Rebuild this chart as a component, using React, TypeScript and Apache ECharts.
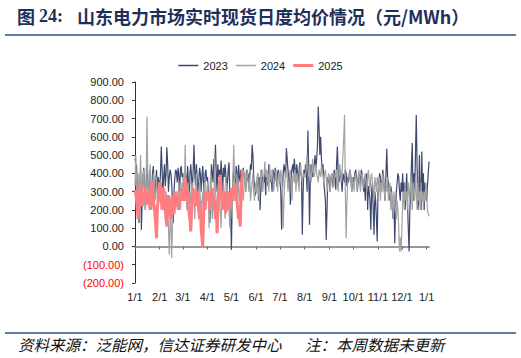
import React, { useEffect, useRef } from "react";
import * as echarts from "echarts";

const MONTH_DAYS = [31, 29, 31, 30, 31, 30, 31, 31, 30, 31, 30, 31];
const EXTRA_DAYS = 4;
const SERIES_NAMES = ["2023", "2024", "2025"];
const TITLE_PREFIX = "图";
const TITLE_NUM = "24:";
const TITLE_MAIN = "山东电力市场实时现货日度均价情况（元/MWh）";
const SOURCE_TEXT = "资料来源：泛能网，信达证券研发中心";
const NOTE_TEXT = "注：本周数据未更新";

const DATA_2023 = [
  // Jan
  480, 450, 440, 300, 250, 128, 330, 420, 91, 260, 380, 430, 300, 200, 350, 450, 380, 280, 330, 420, 250, 300, 400, 440, 330, 260, 350, 420, 300, 380, 350,
  // Feb
  320, 400, 547, 420, 300, 380, 450, 330, 400, 543, 450, 300, 380, 420, 400, 350, 250, 128, 300, 380, 420, 410, 350, 430, 390, 300, 420, 440, 380,
  // Mar
  400, 350, 250, 420, 380, 300, 440, 360, 200, 400, 450, 380, 300, 420, 557, 400, 330, 450, 380, 280, 350, 430, 400, 300, 380, 440, 350, 250, 400, 420, 360,
  // Apr
  380, 300, 250, 130, 320, 450, 400, 350, 480, 420, 557, 400, 300, 450, 380, 420, 350, 470, 400, 300, 430, 380, 450, 400, 280, 350, 420, 460, 300, 200,
  // May
  -18, 250, 380, 420, 350, 300, 440, 400, 330, 447, 380, 350, 420, 300, 400, 430, 380, 350, 300, 420, 360, 400, 330, 380, 450, 420, 557, 500, 380, 330, 280,
  // Jun
  300, 350, 400, 250, 380, 200, 330, 420, 300, 380, 350, 400, 280, 420, 380, 330, 450, 400, 350, 380, 300, 420, 400, 350, 430, 380, 330, 400, 420, 380,
  // Jul
  350, 300, 91, 300, 400, 450, 420, 380, 538, 480, 420, 350, 400, 228, 380, 420, 450, 400, 480, 420, 380, 450, 400, 350, 420, 460, 400, 380, 64, 300, 420,
  // Aug
  380, 450, 400, 300, 635, 420, 119, 350, 450, 400, 380, 420, 450, 500, 430, 480, 550, 766, 650, 500, 600, 480, 400, 450, 350, 300, 250, 36, 200, 380, 350,
  // Sep
  350, 300, 380, 400, 350, 320, 420, 380, 310, 450, 547, 400, 350, 380, 420, 360, 300, 400, 380, 350, 420, 400, 330, 380, 350, 400, 420, 380, 300, 350,
  // Oct
  380, 350, 400, 420, 380, 300, 350, 400, 380, 330, 420, 400, 350, 300, 380, 250, 350, 400, 200, 330, 300, 250, 91, 300, 350, 200, 64, 300, 250, 150, 27,
  // Nov
  300, 350, 400, 380, 300, 350, 420, 380, 300, 250, 400, 535, 380, 350, 300, 250, 330, 300, 200, 150, 250, 18, 200, 300, 350, 400, 380, 300, 250, 350,
  // Dec + early Jan
  300, 400, 250, 350, 200, 300, 400, 250, 100, -27, 200, 300, 450, 566, 250, 400, 300, 500, 720, 450, 200, 250, 500, 300, 200, 520, 250, 400, 200, 350, 300, 250, 330, 400, 465,
];

const DATA_2024 = [
  // Jan
  330, 500, 300, 250, 400, 200, 350, 500, 300, 250, 380, 420, 300, 200, 350, 711, 400, 250, 300, 450, 350, 200, 300, 400, 330, 250, 300, 380, 250, 300, 350,
  // Feb
  250, 300, 350, 280, 200, 300, 250, 150, 300, 250, 200, 100, -45, 150, 200, -64, 100, 250, 300, 200, 250, 300, 200, 280, 350, 250, 200, 300, 350,
  // Mar
  300, 400, 350, 557, 300, 200, 250, 350, 150, 300, 250, 200, 350, 300, 250, 150, 300, 400, 250, 200, 300, 350, 250, 150, 250, 300, 200, 350, 300, 250, 300,
  // Apr
  350, 250, 100, 300, 400, 250, 150, 300, 200, 510, 300, 250, 150, 300, 350, 250, 200, 100, 300, 250, 350, 300, 150, 200, 350, 300, 250, 200, 100, 300,
  // May
  300, 150, 400, 557, 350, 250, 300, 400, 250, 350, 300, 200, 350, 400, 300, 250, 350, 400, 300, 380, 420, 350, 300, 380, 250, 300, 350, 400, 300, 250, 350,
  // Jun
  300, 350, 400, 300, 250, 350, 420, 380, 300, 350, 400, 465, 380, 420, 350, 400, 300, 450, 380, 350, 420, 400, 300, 350, 380, 420, 350, 300, 400, 380,
  // Jul
  350, 420, 380, 300, 100, 250, 350, 400, 420, 380, 300, 350, 400, 420, 300, 250, 380, 400, 350, 420, 300, 380, 400, 350, 300, 420, 450, 380, 350, 400, 380,
  // Aug
  400, 380, 450, 510, 420, 380, 450, 400, 350, 420, 480, 400, 380, 420, 450, 400, 380, 350, 420, 400, 380, 450, 420, 380, 350, 400, 420, 380, 300, 350, 400,
  // Sep
  380, 300, 350, 400, 380, 320, 350, 400, 380, 420, 350, 300, 380, 450, 400, 350, 420, 500, 600, 720, 300, 45, 250, 350, 400, 380, 420, 350, 300, 380,
  // Oct
  350, 300, 380, 400, 350, 300, 380, 420, 350, 300, 380, 400, 350, 320, 380, 400, 350, 300, 380, 420, 350, 300, 380, 400, 350, 300, 250, 380, 350, 300, 380,
  // Nov
  350, 300, 380, 250, 350, 300, 400, 350, 300, 250, 350, 300, 380, 250, 300, 350, 200, 300, 250, 150, 300, 250, 200, 150, 250, 200, 100, -27, 50, -27,
  // Dec + early Jan
  100, 250, 300, 200, 350, 250, 300, 200, 350, 300, 250, 400, 300, 200, 350, 300, 250, 380, 300, 200, 350, 250, 300, 200, 350, 250, 300, 200, 300, 250, 350, 300, 200, 180, 165,
];

const DATA_2025 = [
  // Jan
  310, 290, 250, 200, 150, 230, 300, 350, 280, 220, 250, 300, 270, 320, 250, 230, 270, 300, 250, 200, 230, 350, 300, 250, 220, 180, 120, 45, 200, 250, 300,
  // Feb
  350, 300, 250, 200, 280, 320, 250, 200, 150, 110, 250, 280, 230, 200, 150, 250, 280, 200, 180, 250, 300, 270, 220, 250, 200, 280, 250, 300, 320,
  // Mar
  280, 250, 300, 374, 280, 250, 300, 220, 180, 150, 82, 200, 280, 320, 250, 300, 220, 280, 250, 300, 200, 150, 250, 100, 50, 0, 150, 250, 200, 300, 280,
  // Apr
  250, 300, 280, 200, 250, 300, 320, 250, 280, 200, 150, 250, 73, 200, 300, 350, 392, 300, 250, 200, 280, 250, 300, 182, 250, 300, 280, 200, 250, 300,
  // May
  280, 320, 250, 300, 330, 347, 300, 250, 200, 150, 180, 109, 250, 350, 420,
];

const COLORS = ["#3d4870", "#a3a3a3", "#ff7c80"];
const WIDTHS = [1.2, 1.2, 3];

function buildCategories(): string[] {
  const cats: string[] = [];
  MONTH_DAYS.forEach((n, m) => {
    for (let d = 1; d <= n; d++) cats.push(`${m + 1}/${d}`);
  });
  for (let d = 1; d <= EXTRA_DAYS; d++) cats.push(`1/${d}`);
  return cats;
}

const isMonthStart = (_i: number, v: string) => String(v).split("/")[1] === "1";

// legend icon: a horizontal bar inside a 20x10 box (tiny corner specks fix the bounding box)
function lineIcon(thickness: number): string {
  const y1 = 5 - thickness / 2;
  const y2 = 5 + thickness / 2;
  return `path://M0,0L0.01,0L0,0.01Z M19.99,10L20,10L20,9.99Z M0,${y1}L20,${y1}L20,${y2}L0,${y2}Z`;
}

export default function App() {
  const ref = useRef<HTMLDivElement>(null);
  useEffect(() => {
    if (!ref.current) return;
    const chart = echarts.init(ref.current, undefined, { renderer: "svg" });
    const cats = buildCategories();
    const datasets = [DATA_2023, DATA_2024, DATA_2025];
    chart.setOption({
      animation: false,
      backgroundColor: "#ffffff",
      textStyle: { fontFamily: "Liberation Sans, Arial, sans-serif" },
      legend: {
        top: 55,
        left: "center",
        itemWidth: 20,
        itemHeight: 10,
        itemGap: 8,
        textStyle: { fontSize: 11, color: "#222" },
        data: SERIES_NAMES.map((name, i) => ({
          name,
          icon: lineIcon(WIDTHS[i] + (i < 2 ? 0.2 : 0)),
          itemStyle: { color: COLORS[i] },
        })),
      },
      grid: { left: 135, right: 92, top: 82, bottom: 75 },
      xAxis: [
        {
          type: "category",
          data: cats,
          boundaryGap: false,
          axisLine: { show: false, onZero: false },
          axisTick: { show: false },
          axisLabel: {
            interval: isMonthStart,
            fontSize: 11,
            color: "#222",
            margin: 8,
          },
          splitLine: { show: false },
        },
        {
          type: "category",
          data: cats,
          boundaryGap: false,
          position: "bottom",
          axisLine: { show: true, onZero: true, lineStyle: { color: "#9a9a9a", width: 2 } },
          axisTick: { show: true, interval: isMonthStart, length: 3, lineStyle: { color: "#666", width: 1 } },
          axisLabel: { show: false },
          splitLine: { show: false },
        },
      ],
      yAxis: {
        type: "value",
        min: -200,
        max: 900,
        interval: 100,
        axisLine: { show: true, lineStyle: { color: "#333", width: 1 } },
        axisTick: { show: true, length: 3, lineStyle: { color: "#333" } },
        splitLine: { show: false },
        axisLabel: {
          fontSize: 11,
          margin: 11,
          formatter: (v: number) => (v < 0 ? `(${Math.abs(v).toFixed(2)})` : v.toFixed(2)),
          color: (v: any) => (Number(v) < 0 ? "#ff0000" : "#222"),
        },
      },
      series: SERIES_NAMES.map((name, i) => ({
        name,
        type: "line",
        xAxisIndex: 0,
        data: datasets[i],
        symbol: "none",
        showSymbol: false,
        lineStyle: { color: COLORS[i], width: WIDTHS[i] },
        itemStyle: { color: COLORS[i] },
        z: 2 + i,
      })),
      graphic: [
        {
          type: "text",
          left: 17,
          top: 7,
          style: { text: TITLE_PREFIX, font: "bold 18px 'Noto Sans CJK SC'", fill: "#1f2f5b" },
        },
        {
          type: "text",
          left: 39,
          top: 7,
          style: { text: TITLE_NUM, font: "bold 18px 'Liberation Serif', serif", fill: "#1f2f5b" },
        },
        {
          type: "text",
          left: 77,
          top: 7,
          style: { text: TITLE_MAIN, font: "bold 18px 'Noto Sans CJK SC'", fill: "#1f2f5b" },
        },
        {
          type: "line",
          shape: { x1: 5, y1: 35, x2: 516, y2: 35 },
          style: { stroke: "#5b7ea8", lineWidth: 2 },
        },
        {
          type: "line",
          shape: { x1: 5, y1: 333, x2: 516, y2: 333 },
          style: { stroke: "#5b7ea8", lineWidth: 2 },
        },
        {
          type: "text",
          left: 18,
          top: 336,
          style: { text: SOURCE_TEXT, font: "italic 15.5px 'Noto Sans CJK SC'", fill: "#111" },
        },
        {
          type: "text",
          left: 305,
          top: 336,
          style: { text: NOTE_TEXT, font: "italic 15.5px 'Noto Sans CJK SC'", fill: "#111" },
        },
      ],
    });
    return () => chart.dispose();
  }, []);
  return <div ref={ref} style={{ position: "fixed", left: 0, top: 0, width: 521, height: 358 }} />;
}
